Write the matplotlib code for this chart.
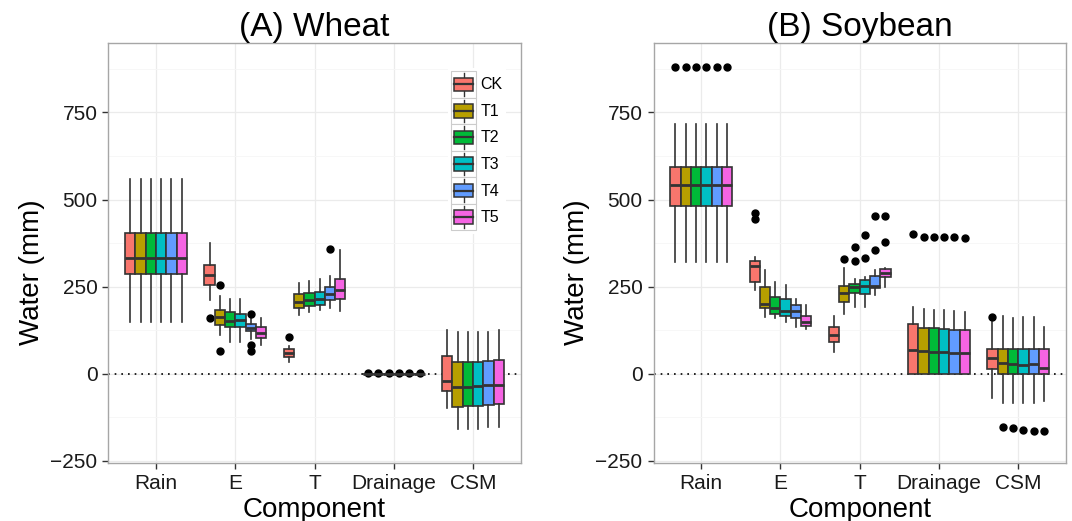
import matplotlib
matplotlib.use("Agg")
import matplotlib.pyplot as plt
from matplotlib.legend_handler import HandlerBase
from matplotlib.patches import Rectangle
from matplotlib.lines import Line2D

plt.rcParams['font.family'] = ['Liberation Sans', 'DejaVu Sans']

components = ["Rain", "E", "T", "Drainage", "CSM"]
treatments = ["CK", "T1", "T2", "T3", "T4", "T5"]
colors = ["#F8766D", "#B79F00", "#00BA38", "#00BFC4", "#619CFF", "#F564E3"]

# rows = components, columns = CK, T1..T5
wheat_lo = [[150, 150, 150, 150, 150, 150],
            [211, 111, 91, 91, 100, 83],
            [35, 170, 178, 182, 188, 180],
            [0, 0, 0, 0, 0, 0],
            [-98, -158, -158, -158, -153, -153]]
wheat_q1 = [[285, 285, 285, 285, 285, 285],
            [256, 139, 134, 134, 123, 102],
            [49, 188, 195, 198, 212, 215],
            [0, 0, 0, 0, 0, 0],
            [-48, -95, -93, -93, -89, -87]]
wheat_med = [[333, 333, 333, 333, 333, 333],
             [283, 164, 152, 154, 130, 116],
             [61, 206, 212, 215, 228, 240],
             [0, 0, 0, 0, 0, 0],
             [-20, -38, -38, -35, -33, -31]]
wheat_q3 = [[405, 405, 405, 405, 405, 405],
            [313, 183, 178, 173, 142, 135],
            [71, 228, 232, 235, 250, 272],
            [0, 0, 0, 0, 0, 0],
            [51, 35, 35, 35, 37, 40]]
wheat_hi = [[560, 560, 560, 560, 560, 560],
            [375, 223, 214, 214, 159, 159],
            [80, 260, 265, 272, 280, 355],
            [0, 0, 0, 0, 0, 0],
            [126, 121, 121, 121, 121, 126]]
wheat_out = [[[], [], [], [], [], []],
             [[160], [256, 64], [], [], [171, 82, 64], []],
             [[107], [], [], [], [357], []],
             [[1], [1], [1], [1], [1], [1]],
             [[], [], [], [], [], []]]

soy_lo = [[320, 320, 320, 320, 320, 320],
          [241, 164, 159, 148, 135, 128],
          [63, 173, 192, 192, 226, 248],
          [0, 0, 0, 0, 0, 0],
          [-70, -84, -84, -84, -83, -79]]
soy_q1 = [[481, 481, 481, 481, 481, 481],
          [262, 190, 171, 167, 159, 137],
          [91, 206, 231, 229, 245, 278],
          [0, 0, 0, 0, 0, 0],
          [13, 0, 0, 0, 0, 0]]
soy_med = [[543, 543, 543, 543, 543, 543],
           [309, 200, 188, 181, 180, 149],
           [111, 232, 248, 252, 251, 290],
           [69, 64, 63, 62, 61, 59],
           [45, 30, 28, 26, 27, 16]]
soy_q3 = [[592, 592, 592, 592, 592, 592],
          [324, 249, 221, 216, 196, 166],
          [133, 251, 259, 269, 280, 302],
          [143, 132, 130, 129, 127, 127],
          [71, 70, 70, 70, 70, 70]]
soy_hi = [[716, 716, 716, 716, 716, 716],
          [335, 297, 264, 256, 216, 197],
          [167, 305, 273, 278, 299, 305],
          [192, 185, 183, 182, 180, 178],
          [150, 167, 161, 164, 164, 135]]
soy_out = [[[880], [880], [880], [880], [880], [880]],
           [[462, 443], [], [], [], [], []],
           [[], [328], [323, 364], [333, 397], [356, 454], [378, 454]],
           [[402], [392], [392], [392], [392], [389]],
           [[164], [-152], [-156], [-160], [-163], [-163]]]


class BoxKey(HandlerBase):
    def create_artists(self, legend, orig_handle, xdescent, ydescent,
                       width, height, fontsize, trans):
        x0, y0 = -xdescent, -ydescent
        bg = Rectangle((x0, y0), width, height, facecolor="white",
                       edgecolor="#cccccc", lw=0.8, transform=trans)
        cx = x0 + width / 2
        whisk = Line2D([cx, cx], [y0 + 0.08 * height, y0 + 0.92 * height],
                       color="#333333", lw=1, transform=trans)
        box = Rectangle((x0 + 0.12 * width, y0 + 0.24 * height),
                        0.76 * width, 0.52 * height,
                        facecolor=orig_handle.get_facecolor(),
                        edgecolor="#333333", lw=1.1, transform=trans)
        med = Line2D([x0 + 0.12 * width, x0 + 0.88 * width],
                     [y0 + 0.5 * height] * 2, color="#333333", lw=1.6,
                     transform=trans)
        return [bg, whisk, box, med]


def draw_panel(ax, lo, q1, med, q3, hi, out, title):
    step = 0.13
    for ci in range(len(components)):
        for ti in range(len(treatments)):
            stats = [dict(whislo=lo[ci][ti], q1=q1[ci][ti], med=med[ci][ti],
                          q3=q3[ci][ti], whishi=hi[ci][ti], fliers=out[ci][ti])]
            pos = ci + 1 + (ti - 2.5) * step
            ax.bxp(stats, positions=[pos], widths=step, patch_artist=True,
                   showcaps=False, manage_ticks=False,
                   boxprops=dict(facecolor=colors[ti], edgecolor="#333333", linewidth=1.2),
                   medianprops=dict(color="#333333", linewidth=2),
                   whiskerprops=dict(color="#333333", linewidth=1.2),
                   flierprops=dict(marker="o", markerfacecolor="black",
                                   markeredgecolor="black", markersize=5))
    ax.axhline(0, color="black", linestyle=(0, (1, 3)), linewidth=1.2, zorder=1.5)

    ax.set_xlim(0.4, 5.6)
    ax.set_ylim(-256, 950)
    ax.set_xticks(range(1, 6))
    ax.set_xticklabels(components)
    ax.set_yticks([-250, 0, 250, 500, 750])
    ax.set_yticks([-125, 125, 375, 625, 875], minor=True)
    ax.grid(True, which="major", color="#ebebeb", linewidth=0.9)
    ax.grid(True, which="minor", axis="y", color="#f6f6f6", linewidth=0.6)
    ax.set_axisbelow(True)
    for s in ax.spines.values():
        s.set_color("#a6a6a6")
        s.set_linewidth(1)
    ax.tick_params(axis="both", which="major", length=4, width=1, color="#333333",
                   labelsize=15, labelcolor="#1a1a1a", pad=4)
    ax.tick_params(axis="both", which="minor", length=0)

    ax.set_title(title, fontsize=24, pad=5)
    ax.set_ylabel("Water (mm)", fontsize=20)
    ax.yaxis.set_label_coords(-0.155, 0.454)
    ax.set_xlabel("Component", fontsize=20)
    ax.xaxis.set_label_coords(0.5, -0.08)


fig = plt.figure(figsize=(10.72, 5.21), dpi=100)
ax1 = fig.add_axes([0.1012, 0.1113, 0.3844, 0.8067])
ax2 = fig.add_axes([0.6098, 0.1113, 0.3844, 0.8067])

draw_panel(ax1, wheat_lo, wheat_q1, wheat_med, wheat_q3, wheat_hi, wheat_out, "(A) Wheat")
draw_panel(ax2, soy_lo, soy_q1, soy_med, soy_q3, soy_hi, soy_out, "(B) Soybean")

handles = [Rectangle((0, 0), 1, 1, facecolor=c) for c in colors]
ax1.legend(handles, treatments, handler_map={h: BoxKey() for h in handles},
           loc="upper left", bbox_to_anchor=(0.824, 0.94), fontsize=11.5,
           handlelength=1.57, handleheight=2.18, labelspacing=0,
           handletextpad=0.25, borderpad=0.2, borderaxespad=0,
           frameon=True, fancybox=False, edgecolor="none",
           facecolor="white", framealpha=1)

fig.savefig("out.png", dpi=100)
